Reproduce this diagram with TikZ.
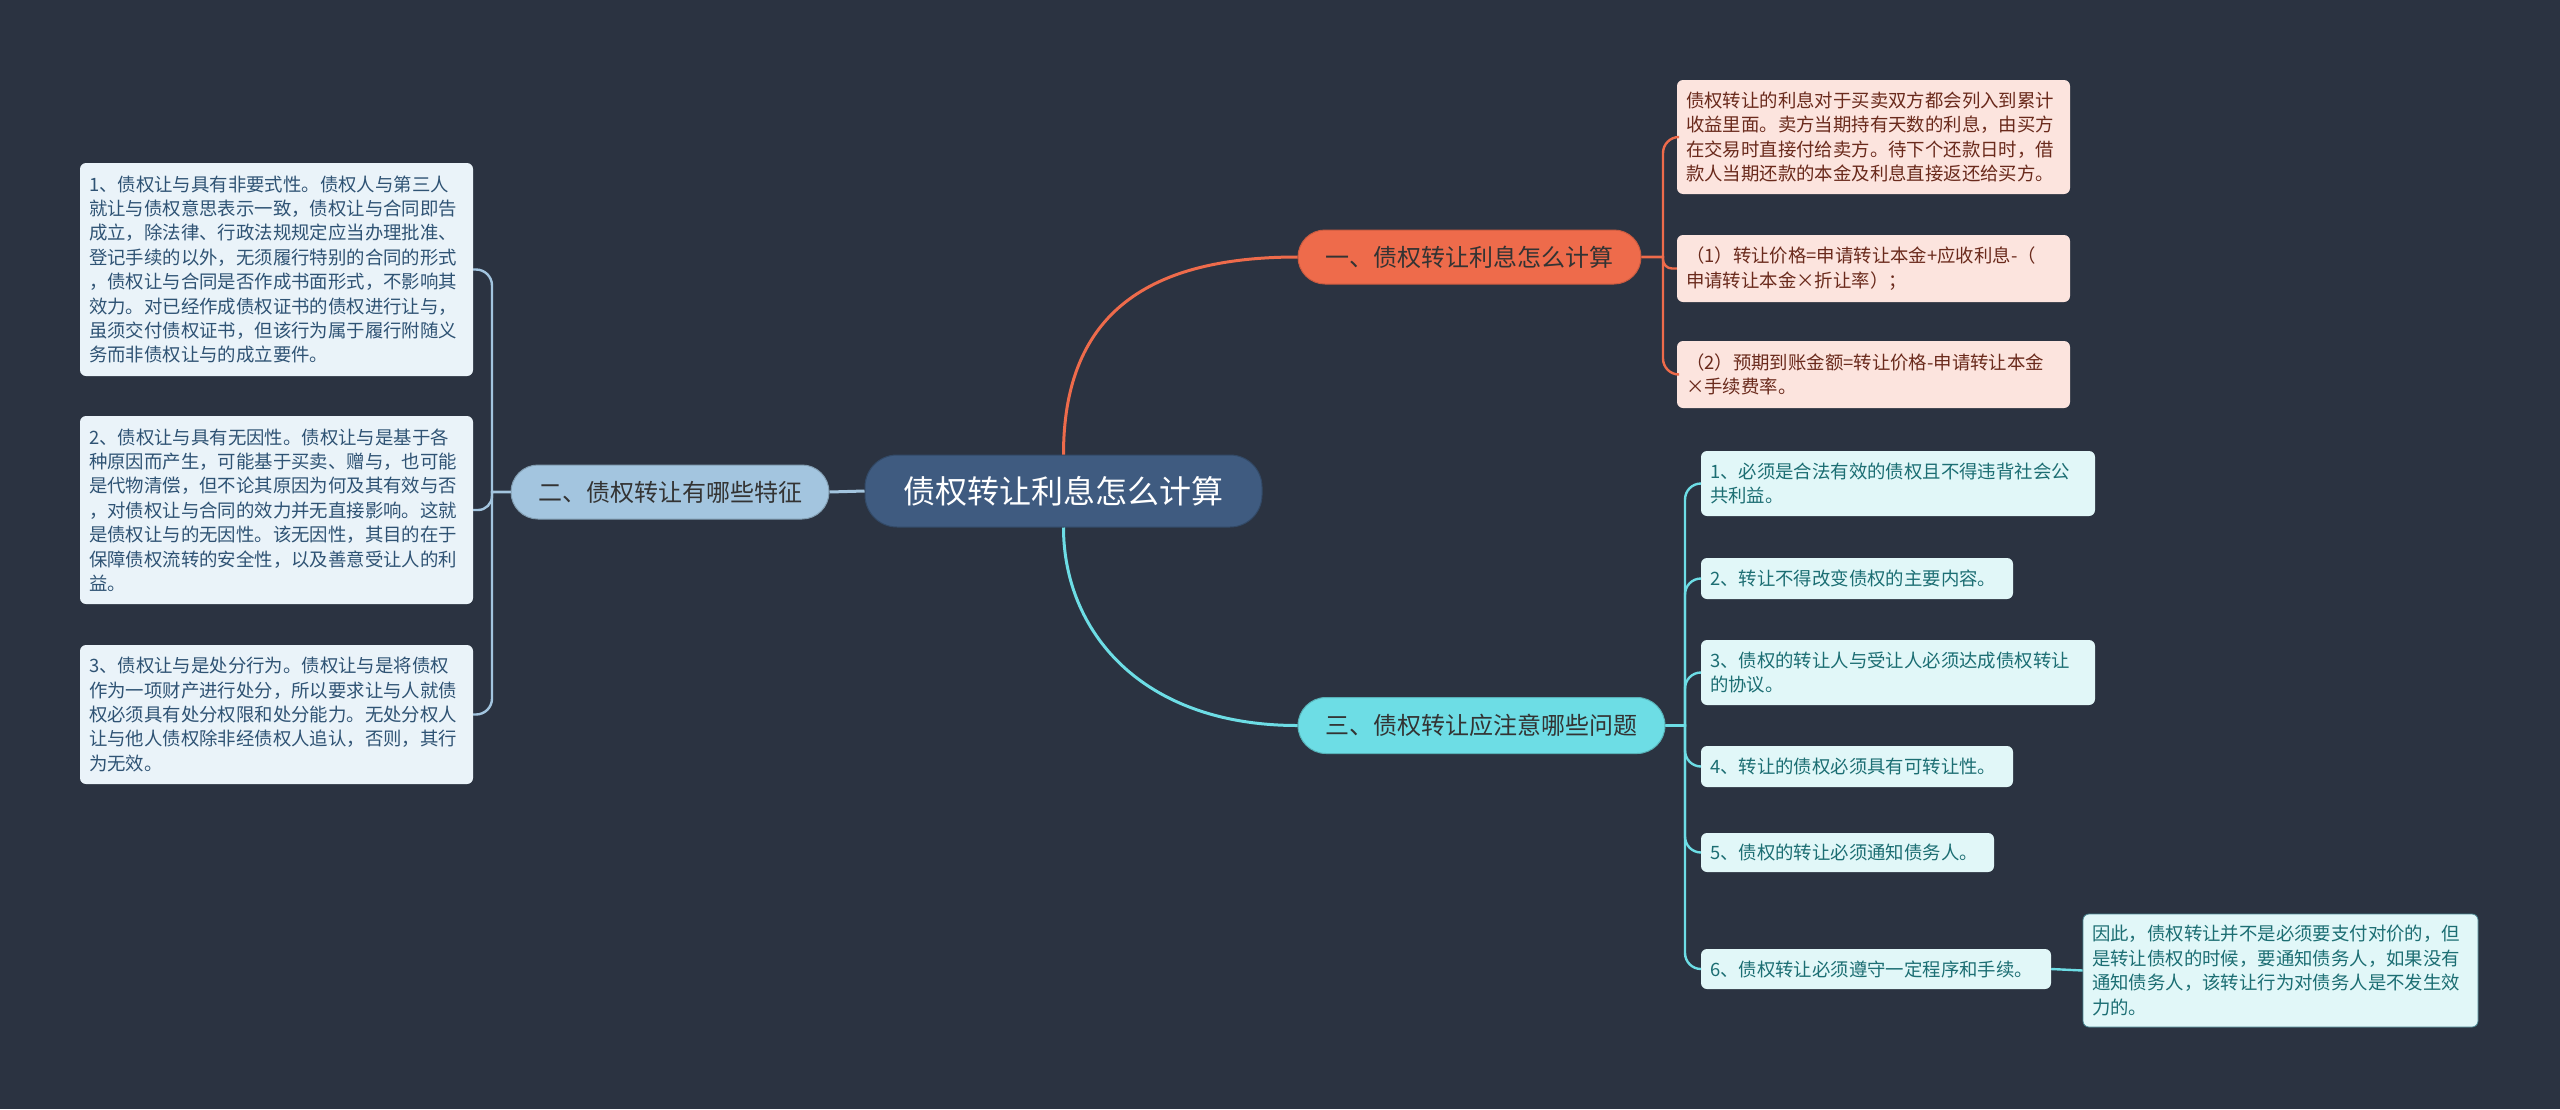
\documentclass[tikz,border=0pt]{standalone}
\usepackage{fontspec}
\setmainfont{Noto Sans CJK SC}
\definecolor{bg}{HTML}{2B3341}
\definecolor{cfill}{HTML}{3F5B80}
\definecolor{oneF}{HTML}{EE6B4B}
\definecolor{oneL}{HTML}{FCE4DE}
\definecolor{oneT}{HTML}{6A2A1C}
\definecolor{twoF}{HTML}{A3C5DF}
\definecolor{twoL}{HTML}{EAF3F9}
\definecolor{twoT}{HTML}{2F5374}
\definecolor{thrF}{HTML}{6DDDE5}
\definecolor{thrL}{HTML}{E1F7F8}
\definecolor{thrT}{HTML}{1C6E73}
\tikzset{
  central/.style={fill=cfill, draw=cfill!80!black, line width=1pt, rounded corners=32pt,
    minimum width=397pt, minimum height=72pt, text=white, inner sep=0pt,
    font=\fontsize{32}{36}\selectfont},
  branch/.style={rounded corners=27pt, minimum height=54pt, inner sep=0pt,
    font=\fontsize{24}{28}\selectfont},
  leaf/.style={rounded corners=6pt, inner xsep=9pt, inner ysep=0pt, align=left,
    font=\fontsize{18.4}{24.4}\selectfont},
  leafone/.style={leaf, fill=oneL, text=oneT},
  leaftwo/.style={leaf, fill=twoL, text=twoT},
  leafthr/.style={leaf, fill=thrL, text=thrT},
  conone/.style={draw=oneF, line width=2.4pt},
  contwo/.style={draw=twoF, line width=2.4pt},
  conthr/.style={draw=thrF, line width=2.4pt},
}
\begin{document}
\begin{tikzpicture}[x=1pt,y=-1pt]
\fill[bg] (0,0) rectangle (2560,1109);
\useasboundingbox (0,0) rectangle (2560,1109);

% main nodes
\node[central] (c) at (1063.5,491) {债权转让利息怎么计算};
\node[branch, fill=oneF, draw=oneF!85!black, line width=1pt, minimum width=343pt, text=black!80] (b1) at (1469.5,257) {一、债权转让利息怎么计算};
\node[branch, fill=twoF, draw=twoF!80!black, line width=1pt, minimum width=318pt, text=black!80] (b2) at (670,492) {二、债权转让有哪些特征};
\node[branch, fill=thrF, draw=thrF!80!black, line width=1pt, minimum width=367pt, minimum height=56pt, rounded corners=28pt, text=black!80] (b3) at (1481.5,725.5) {三、债权转让应注意哪些问题};

% branch 1 leaves
\node[leafone, text width=375pt, minimum height=114pt] (l1a) at (1873.5,137) {债权转让的利息对于买卖双方都会列入到累计\\收益里面。卖方当期持有天数的利息，由买方\\在交易时直接付给卖方。待下个还款日时，借\\款人当期还款的本金及利息直接返还给买方。};
\node[leafone, text width=375pt, minimum height=67pt] (l1b) at (1873.5,268.5) {（1）转让价格=申请转让本金+应收利息-（\\申请转让本金×折让率）；};
\node[leafone, text width=375pt, minimum height=67pt] (l1c) at (1873.5,374.5) {（2）预期到账金额=转让价格-申请转让本金\\×手续费率。};

% branch 2 leaves
\node[leaftwo, text width=375pt, minimum height=213pt] (l2a) at (276.5,269.5) {1、债权让与具有非要式性。债权人与第三人\\就让与债权意思表示一致，债权让与合同即告\\成立，除法律、行政法规规定应当办理批准、\\登记手续的以外，无须履行特别的合同的形式\\，债权让与合同是否作成书面形式，不影响其\\效力。对已经作成债权证书的债权进行让与，\\虽须交付债权证书，但该行为属于履行附随义\\务而非债权让与的成立要件。};
\node[leaftwo, text width=375pt, minimum height=188pt] (l2b) at (276.5,510) {2、债权让与具有无因性。债权让与是基于各\\种原因而产生，可能基于买卖、赠与，也可能\\是代物清偿，但不论其原因为何及其有效与否\\，对债权让与合同的效力并无直接影响。这就\\是债权让与的无因性。该无因性，其目的在于\\保障债权流转的安全性，以及善意受让人的利\\益。};
\node[leaftwo, text width=375pt, minimum height=139pt] (l2c) at (276.5,714.5) {3、债权让与是处分行为。债权让与是将债权\\作为一项财产进行处分，所以要求让与人就债\\权必须具有处分权限和处分能力。无处分权人\\让与他人债权除非经债权人追认，否则，其行\\为无效。};

% branch 3 leaves
\node[leafthr, text width=376pt, minimum height=65pt] (l3a) at (1898,483.5) {1、必须是合法有效的债权且不得违背社会公\\共利益。};
\node[leafthr, text width=294pt, minimum height=41pt] (l3b) at (1857,578.5) {2、转让不得改变债权的主要内容。};
\node[leafthr, text width=376pt, minimum height=65pt] (l3c) at (1898,672.5) {3、债权的转让人与受让人必须达成债权转让\\的协议。};
\node[leafthr, text width=294pt, minimum height=41pt] (l3d) at (1857,766.5) {4、转让的债权必须具有可转让性。};
\node[leafthr, text width=275pt, minimum height=39pt] (l3e) at (1847.5,852.5) {5、债权的转让必须通知债务人。};
\node[leafthr, text width=332pt, minimum height=40pt] (l3f) at (1876,969) {6、债权转让必须遵守一定程序和手续。};
\node[leafthr, draw=thrF!50!bg, line width=0.8pt, text width=377pt, minimum height=113pt] (l3g) at (2280.5,970.5) {因此，债权转让并不是必须要支付对价的，但\\是转让债权的时候，要通知债务人，如果没有\\通知债务人，该转让行为对债务人是不发生效\\力的。};

% spine points
\coordinate (s1) at (1663,257);
\coordinate (s2) at (492,492);
\coordinate (s3) at (1685,725.5);

% main connectors
\draw[conone, line width=3pt] (c.north) .. controls (1063.5,320) and (1140,257) .. (b1.west);
\draw[conthr, line width=3pt] (c.south) .. controls (1063.5,630) and (1140,725.5) .. (b3.west);
\draw[contwo, line width=3pt] (c.west) -- (b2.east);

% branch 1 leaf connectors
\foreach \n/\r in {l1a/16,l1b/9,l1c/16}{
  \draw[conone] (b1.east) -- (s1) [rounded corners=\r pt] -- (s1 |- \n.west) -- (\n.west);
}
% branch 2 leaf connectors
\foreach \n/\r in {l2a/16,l2b/14,l2c/16}{
  \draw[contwo] (b2.west) -- (s2) [rounded corners=\r pt] -- (s2 |- \n.east) -- (\n.east);
}
% branch 3 leaf connectors
\foreach \n in {l3a,l3b,l3c,l3d,l3e,l3f}{
  \draw[conthr] (b3.east) -- (s3) [rounded corners=16pt] -- (s3 |- \n.west) -- (\n.west);
}
\draw[conthr] (l3f.east) -- (l3g.west);
\end{tikzpicture}
\end{document}
